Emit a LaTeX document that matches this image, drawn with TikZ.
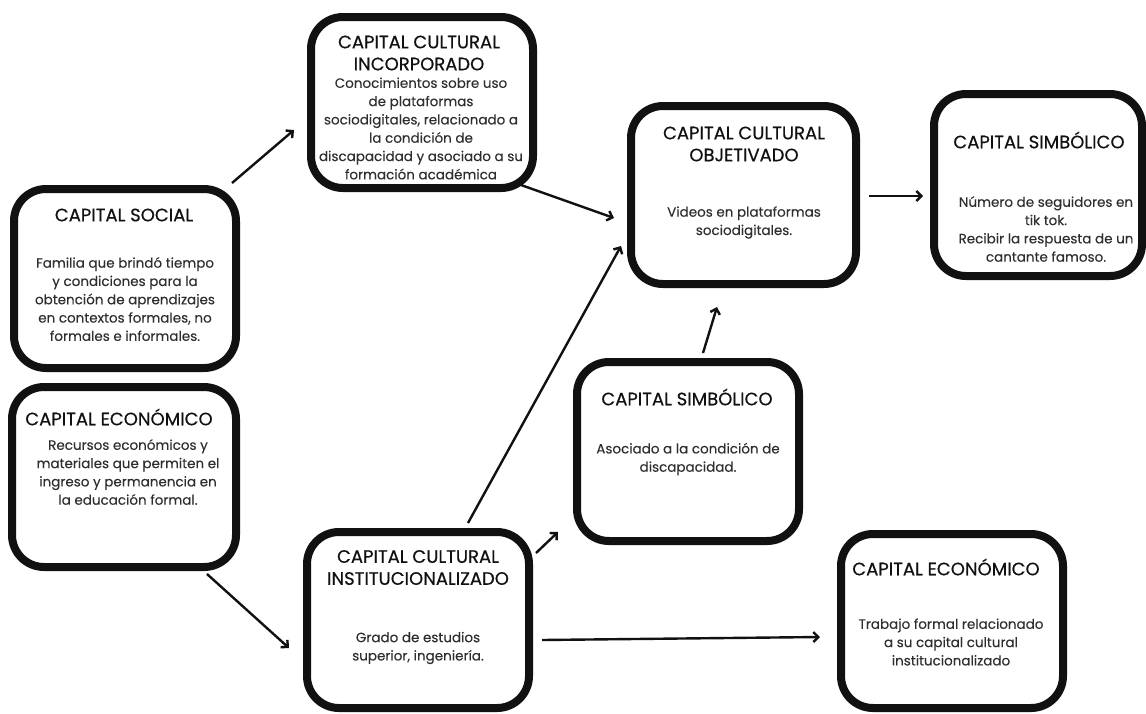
\documentclass[tikz,border=0pt]{standalone}
\usepackage{fontspec}
\setmainfont{Poppins}
\newfontfamily\captitlefont{Poppins}[FakeBold=0.5]
\newfontfamily\capbodyfont{Poppins}[FakeBold=0.15]
\usepackage{tikz}
\usetikzlibrary{positioning,arrows.meta}
\definecolor{capink}{HTML}{111111}
\definecolor{captext}{HTML}{2E2E2E}

\begin{document}
\begin{tikzpicture}[x=1pt, y=-1pt,
  capbox/.style={draw=capink, line width=8pt, rounded corners=32pt, inner sep=0pt},
  captitle/.style={font=\captitlefont\fontsize{18}{22}\selectfont, text=capink, align=center, inner sep=0pt},
  capbody/.style={font=\capbodyfont\fontsize{13.5}{18.3}\selectfont, text=captext, align=center, inner sep=0pt},
  arrow/.style={-{Straight Barb[length=5pt,width=10pt]}, line width=2.4pt, capink}
]
  \useasboundingbox (0,0) rectangle (1146,713);

  % boxes
  \node[capbox, minimum width=222pt, minimum height=179pt] (social) at (125,278.5) {};
  \node[capbox, minimum width=224pt, minimum height=180pt] (econL) at (124,477) {};
  \node[capbox, minimum width=222pt, minimum height=171pt] (incorp) at (422,102.5) {};
  \node[capbox, minimum width=225pt, minimum height=178pt] (objet) at (743.5,195) {};
  \node[capbox, minimum width=208pt, minimum height=182pt] (simbR) at (1038,185) {};
  \node[capbox, minimum width=222pt, minimum height=179pt] (simbM) at (688,451.5) {};
  \node[capbox, minimum width=222pt, minimum height=176pt] (inst) at (418,620) {};
  \node[capbox, minimum width=222pt, minimum height=174pt] (econR) at (952,621) {};

  % titles
  \node[captitle] (socialT) at (124,215) {CAPITAL SOCIAL};
  \node[captitle] (econLT) at (119,417) {CAPITAL ECONÓMICO};
  \node[captitle] (incorpT) at (419,53) {CAPITAL CULTURAL\\INCORPORADO};
  \node[captitle] (objetT) at (744,144) {CAPITAL CULTURAL\\OBJETIVADO};
  \node[captitle] (simbRT) at (1039,140) {CAPITAL SIMBÓLICO};
  \node[captitle] (simbMT) at (687,397) {CAPITAL SIMBÓLICO};
  \node[captitle] (instT) at (418,567.5) {CAPITAL CULTURAL\\INSTITUCIONALIZADO};
  \node[captitle] (econRT) at (946,567) {CAPITAL ECONÓMICO};

  % texts
  \node[capbody] (socialB) at (125,299) {Familia que brindó tiempo\\y condiciones para la\\obtención de aprendizajes\\en contextos formales, no\\formales e informales.};
  \node[capbody] (econLB) at (128,472) {Recursos económicos y\\materiales que permiten el\\ingreso y permanencia en\\la educación formal.};
  \node[capbody] (incorpB) at (421,128.5) {Conocimientos sobre uso\\de plataformas\\sociodigitales, relacionado a\\la condición de\\discapacidad y asociado a su\\formación académica};
  \node[capbody] (objetB) at (744,222.5) {Videos en plataformas\\sociodigitales.};
  \node[capbody] (simbRB) at (1046,229) {Número de seguidores en\\tik tok.\\Recibir la respuesta de un\\cantante famoso.};
  \node[capbody] (simbMB) at (688,459) {Asociado a la condición de\\discapacidad.};
  \node[capbody] (instB) at (418,648) {Grado de estudios\\superior, ingeniería.};
  \node[capbody] (econRB) at (951,642) {Trabajo formal relacionado\\a su capital cultural\\institucionalizado};

  % connectors
  \draw[arrow] ([xshift=-8pt,yshift=2pt]social.north east) -- ([xshift=-13pt,yshift=-27.5pt]incorp.west);
  \draw[arrow] ([xshift=-16pt,yshift=7pt]incorp.south east) -- ([xshift=-13pt,yshift=-23pt]objet.west);
  \draw[arrow] ([xshift=9pt,yshift=-1pt]objet.east) -- ([xshift=-7pt,yshift=-11pt]simbR.west);
  \draw[arrow] ([xshift=50pt,yshift=5pt]inst.north) -- ([xshift=-6pt,yshift=42pt]objet.south west);
  \draw[arrow] ([xshift=15pt,yshift=5pt]simbM.north) -- ([xshift=-26.5pt,yshift=-19pt]objet.south);
  \draw[arrow] ([xshift=3pt,yshift=-25pt]inst.north east) -- ([xshift=-15pt,yshift=13pt]simbM.south west);
  \draw[arrow] ([xshift=9pt,yshift=-20pt]inst.east) -- ([xshift=-17pt,yshift=-16pt]econR.west);
  \draw[arrow] ([xshift=-33pt,yshift=-3pt]econL.south east) -- ([xshift=-14pt,yshift=-28pt]inst.west);
\end{tikzpicture}
\end{document}
